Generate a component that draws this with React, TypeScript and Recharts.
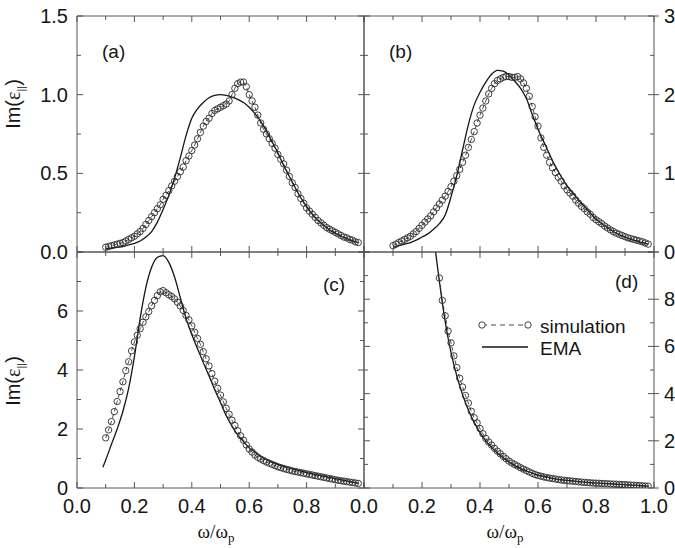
import React from "react";
import { ComposedChart, Line, XAxis, YAxis } from "recharts";

const W = 675;
const H = 548;

// simulation grid (omega / omega_p)
const simX = [
  0.1, 0.11, 0.12, 0.13, 0.14, 0.15, 0.16, 0.17, 0.18, 0.19,
  0.2, 0.21, 0.22, 0.23, 0.24, 0.25, 0.26, 0.27, 0.28, 0.29,
  0.3, 0.31, 0.32, 0.33, 0.34, 0.35, 0.36, 0.37, 0.38, 0.39,
  0.4, 0.41, 0.42, 0.43, 0.44, 0.45, 0.46, 0.47, 0.48, 0.49,
  0.5, 0.51, 0.52, 0.53, 0.54, 0.55, 0.56, 0.57, 0.58, 0.59,
  0.6, 0.61, 0.62, 0.63, 0.64, 0.65, 0.66, 0.67, 0.68, 0.69,
  0.7, 0.71, 0.72, 0.73, 0.74, 0.75, 0.76, 0.77, 0.78, 0.79,
  0.8, 0.81, 0.82, 0.83, 0.84, 0.85, 0.86, 0.87, 0.88, 0.89,
  0.9, 0.91, 0.92, 0.93, 0.94, 0.95, 0.96, 0.97, 0.98,
];

const simA = [
  0.03, 0.035, 0.04, 0.045, 0.05, 0.055, 0.06, 0.07, 0.08, 0.09,
  0.1, 0.115, 0.13, 0.15, 0.175, 0.2, 0.225, 0.25, 0.275, 0.3,
  0.335, 0.36, 0.39, 0.42, 0.45, 0.48, 0.51, 0.54, 0.58, 0.61,
  0.645, 0.68, 0.72, 0.76, 0.8, 0.83, 0.85, 0.88, 0.9, 0.91,
  0.92, 0.93, 0.94, 0.96, 1.0, 1.04, 1.07, 1.08, 1.08, 1.05,
  1.0, 0.96, 0.92, 0.87, 0.82, 0.78, 0.75, 0.72, 0.69, 0.66,
  0.62, 0.59, 0.56, 0.52, 0.48, 0.44, 0.41, 0.37, 0.34, 0.31,
  0.28, 0.26, 0.24, 0.22, 0.2, 0.185, 0.17, 0.155, 0.145, 0.135,
  0.125, 0.115, 0.105, 0.095, 0.09, 0.08, 0.075, 0.065, 0.06,
];

const simB = [
  0.08, 0.1, 0.12, 0.14, 0.16, 0.18, 0.2, 0.23, 0.26, 0.3,
  0.34, 0.38, 0.42, 0.46, 0.51, 0.56, 0.61, 0.66, 0.71, 0.77,
  0.83, 0.9, 0.97, 1.05, 1.14, 1.23, 1.33, 1.43, 1.53, 1.64,
  1.74, 1.83, 1.92, 2.01, 2.08, 2.14, 2.18, 2.2, 2.22, 2.23,
  2.23, 2.22, 2.22, 2.23, 2.2, 2.15, 2.08, 1.98, 1.85, 1.72,
  1.6, 1.45, 1.33, 1.23, 1.14, 1.07, 1.01, 0.95, 0.9, 0.84,
  0.79, 0.75, 0.71, 0.66, 0.62, 0.58, 0.55, 0.51, 0.48, 0.44,
  0.41, 0.385, 0.36, 0.33, 0.305, 0.28, 0.26, 0.24, 0.225, 0.21,
  0.195, 0.18, 0.17, 0.16, 0.15, 0.14, 0.13, 0.115, 0.1,
];

const simC = [
  1.7, 1.97, 2.25, 2.59, 2.93, 3.27, 3.6, 3.98, 4.28, 4.65,
  4.95, 5.18, 5.4, 5.62, 5.8, 5.98, 6.18, 6.36, 6.52, 6.65,
  6.69, 6.62, 6.55, 6.49, 6.41, 6.3, 6.17, 6.02, 5.85, 5.7,
  5.5, 5.28, 5.07, 4.87, 4.62, 4.38, 4.14, 3.88, 3.62, 3.38,
  3.15, 2.92, 2.7, 2.5, 2.3, 2.12, 1.94, 1.77, 1.62, 1.46,
  1.32, 1.22, 1.12, 1.04, 0.98, 0.93, 0.88, 0.84, 0.8, 0.76,
  0.72, 0.69, 0.66, 0.63, 0.61, 0.58, 0.56, 0.54, 0.52, 0.5,
  0.48, 0.46, 0.44, 0.42, 0.4, 0.38, 0.36, 0.34, 0.32, 0.3,
  0.28, 0.26, 0.245, 0.23, 0.215, 0.2, 0.185, 0.17, 0.155,
];

// panel (d) data starts at 0.26, below that it is off the top
const simXD = simX.slice(16);
const simD = [
  8.9, 7.95, 7.3, 6.65,
  6.15, 5.6, 5.1, 4.65, 4.28, 3.92, 3.6, 3.25, 2.98, 2.76,
  2.52, 2.3, 2.1, 1.95, 1.82, 1.68, 1.56, 1.45, 1.34, 1.24,
  1.14, 1.06, 0.99, 0.93, 0.86, 0.8, 0.74, 0.68, 0.62, 0.57,
  0.53, 0.5, 0.47, 0.44, 0.42, 0.4, 0.38, 0.36, 0.34, 0.325,
  0.31, 0.3, 0.29, 0.275, 0.26, 0.25, 0.24, 0.23, 0.22, 0.21,
  0.205, 0.2, 0.19, 0.185, 0.18, 0.17, 0.165, 0.16, 0.15, 0.145,
  0.14, 0.13, 0.125, 0.115, 0.11, 0.1, 0.09, 0.085, 0.08,
];

// EMA curves
const emaX = [
  0.1, 0.12, 0.14, 0.16, 0.18, 0.2, 0.22, 0.24, 0.26, 0.28,
  0.3, 0.32, 0.34, 0.36, 0.38, 0.4, 0.42, 0.44, 0.46, 0.48,
  0.5, 0.52, 0.54, 0.56, 0.58, 0.6, 0.62, 0.64, 0.66, 0.68,
  0.7, 0.72, 0.74, 0.76, 0.78, 0.8, 0.82, 0.84, 0.86, 0.88,
  0.9, 0.92, 0.94, 0.96, 0.98,
];

const emaA = [
  0.02, 0.025, 0.03, 0.035, 0.045, 0.055, 0.07, 0.095, 0.13, 0.19,
  0.27, 0.36, 0.47, 0.6, 0.74, 0.85, 0.91, 0.95, 0.98, 0.995,
  1.0, 0.995, 0.985, 0.97, 0.95, 0.92, 0.88, 0.83, 0.77, 0.7,
  0.63, 0.55, 0.48, 0.41, 0.345, 0.29, 0.24, 0.2, 0.17, 0.14,
  0.12, 0.1, 0.085, 0.07, 0.06,
];

const emaB = [
  0.06, 0.08, 0.1, 0.12, 0.15, 0.19, 0.23, 0.29, 0.36, 0.47,
  0.7, 0.97, 1.3, 1.62, 1.87, 2.03, 2.16, 2.26, 2.31, 2.3,
  2.25, 2.17, 2.08, 1.95, 1.75, 1.56, 1.4, 1.24, 1.09, 0.96,
  0.84, 0.75, 0.66, 0.58, 0.5, 0.42, 0.36, 0.31, 0.26, 0.22,
  0.19, 0.16, 0.14, 0.12, 0.1,
];

const emaXC = [0.09, ...emaX];
const emaC = [
  0.7, 0.95, 1.48, 2.0, 2.6, 3.38, 4.45, 5.75, 6.8, 7.48, 7.82,
  7.88, 7.65, 7.15, 6.45, 5.75, 5.2, 4.72, 4.25, 3.8, 3.33,
  2.9, 2.45, 2.1, 1.8, 1.58, 1.36, 1.22, 1.07, 0.96, 0.87,
  0.8, 0.73, 0.67, 0.62, 0.57, 0.52, 0.48, 0.44, 0.4, 0.36,
  0.32, 0.28, 0.24, 0.2, 0.16,
];

const emaXD = [
  0.24, 0.25, 0.26, 0.27, 0.28, 0.29, 0.3, 0.32, 0.34, 0.36,
  0.38, 0.4, 0.42, 0.44, 0.46, 0.48, 0.5, 0.52, 0.54, 0.56,
  0.58, 0.6, 0.62, 0.64, 0.66, 0.68, 0.7, 0.74, 0.78, 0.82,
  0.86, 0.9, 0.94, 0.98,
];
const emaD = [
  10.7, 9.7, 8.75, 7.85, 7.05, 6.35, 5.75, 4.75, 3.95, 3.3,
  2.78, 2.35, 2.0, 1.72, 1.48, 1.28, 1.1, 0.95, 0.82, 0.72,
  0.63, 0.55, 0.49, 0.44, 0.39, 0.35, 0.32, 0.27, 0.23, 0.2,
  0.17, 0.14, 0.11, 0.08,
];

// ticks and labels
const xTicks = [0, 0.1, 0.2, 0.3, 0.4, 0.5, 0.6, 0.7, 0.8, 0.9, 1.0];
const xLabelsC = [0, 0.2, 0.4, 0.6, 0.8];
const xLabelsD = [0, 0.2, 0.4, 0.6, 0.8, 1.0];
const yTicksA = [0, 0.25, 0.5, 0.75, 1, 1.25, 1.5];
const yTicksB = [0, 0.5, 1, 1.5, 2, 2.5, 3];
const yTicksC = [0, 1, 2, 3, 4, 5, 6, 7, 8];
const yTicksD = [0, 1, 2, 3, 4, 5, 6, 7, 8, 9, 10];
const yLabelsA = [0, 0.5, 1, 1.5];
const yLabelsB = [0, 1, 2, 3];
const yLabelsC = [0, 2, 4, 6];
const yLabelsD = [0, 2, 4, 6, 8];

const SANS = "'Liberation Sans', Arial, Helvetica, sans-serif";
const SERIF = "'Liberation Serif', 'Times New Roman', serif";
const INK = "#151515";
const FRAME = "#555";

const rows = (xs: number[], ys: number[]) => xs.map((x, i) => ({ x, y: ys[i] }));

const isMajor = (v: number, step: number) =>
  Math.abs(v / step - Math.round(v / step)) < 1e-6;

const fmt1 = (v: number) => v.toFixed(1);
const fmt0 = (v: number) => String(v);

type Side = "bottom" | "top" | "left" | "right";

function tickFor(
  side: Side,
  step: number,
  labels: number[],
  fmt: (v: number) => string,
  outer = false
) {
  return (props: any) => {
    const { x, y, payload } = props;
    const v = payload.value;
    const major = isMajor(v, step);
    const len = major ? 6 : 4;
    const show = labels.some((l) => Math.abs(l - v) < 1e-6);
    let x1 = x, y1 = y, x2 = x, y2 = y;
    if (side === "bottom") y2 = y - len;
    if (side === "top") y2 = y + len;
    if (side === "left") x2 = x + len;
    if (side === "right") {
      x2 = x - len;
      if (outer && major) x1 = x + 5;
    }
    let label = null;
    if (show) {
      const common = { fill: INK, fontSize: 20, fontFamily: SANS };
      if (side === "bottom")
        label = <text x={x} y={y + 25} textAnchor="middle" {...common}>{fmt(v)}</text>;
      if (side === "left")
        label = <text x={x - 9} y={y + 7} textAnchor="end" {...common}>{fmt(v)}</text>;
      if (side === "right")
        label = <text x={x + 10} y={y + 7} textAnchor="start" {...common}>{fmt(v)}</text>;
    }
    return (
      <g>
        <line x1={x1} y1={y1} x2={x2} y2={y2} stroke={FRAME} strokeWidth={1} />
        {label}
      </g>
    );
  };
}

const SimDot = (p: any) => (
  <circle
    key={`d-${p.index}`}
    cx={p.cx}
    cy={p.cy}
    r={3.2}
    fill="none"
    stroke="#2a2a2a"
    strokeWidth={0.9}
  />
);

interface PanelProps {
  box: [number, number, number, number];
  yMax: number;
  yTicks: number[];
  yStep: number;
  xLabels: number[];
  leftLabels: number[];
  rightLabels: number[];
  yFmt: (v: number) => string;
  outerRight: boolean;
  sim: { x: number; y: number }[];
  ema: { x: number; y: number }[];
}

function Panel({
  box,
  yMax,
  yTicks,
  yStep,
  xLabels,
  leftLabels,
  rightLabels,
  yFmt,
  outerRight,
  sim,
  ema,
}: PanelProps) {
  const [l, t, r, b] = box;
  const axisLine = { stroke: FRAME, strokeWidth: 1 };
  // every axis is 1px thick so that it is drawn; margins make up for it
  return (
    <div style={{ position: "absolute", left: 0, top: 0 }}>
      <ComposedChart
        width={W}
        height={H}
        margin={{ top: t - 1, left: l - 1, right: W - r - 1, bottom: H - b - 1 }}>
        <XAxis
          xAxisId="b"
          type="number"
          dataKey="x"
          domain={[0, 1]}
          ticks={xTicks}
          interval={0}
          height={1}
          tickSize={0}
          tickMargin={0}
          tickLine={false}
          axisLine={axisLine}
          tick={tickFor("bottom", 0.2, xLabels, fmt1)}
          allowDataOverflow
        />
        <XAxis
          xAxisId="t"
          orientation="top"
          type="number"
          dataKey="x"
          domain={[0, 1]}
          ticks={xTicks}
          interval={0}
          height={1}
          tickSize={0}
          tickMargin={0}
          tickLine={false}
          axisLine={axisLine}
          tick={tickFor("top", 0.2, [], fmt1)}
          allowDataOverflow
        />
        <YAxis
          yAxisId="l"
          type="number"
          domain={[0, yMax]}
          ticks={yTicks}
          interval={0}
          width={1}
          tickSize={0}
          tickMargin={0}
          tickLine={false}
          axisLine={axisLine}
          tick={tickFor("left", yStep, leftLabels, yFmt)}
          allowDataOverflow
        />
        <YAxis
          yAxisId="r"
          orientation="right"
          type="number"
          domain={[0, yMax]}
          ticks={yTicks}
          interval={0}
          width={1}
          tickSize={0}
          tickMargin={0}
          tickLine={false}
          axisLine={axisLine}
          tick={tickFor("right", yStep, rightLabels, yFmt, outerRight)}
          allowDataOverflow
        />
        <Line
          xAxisId="b"
          yAxisId="l"
          data={ema}
          dataKey="y"
          type="monotone"
          stroke={INK}
          strokeWidth={1.3}
          dot={false}
          isAnimationActive={false}
        />
        <Line
          xAxisId="b"
          yAxisId="l"
          data={sim}
          dataKey="y"
          type="linear"
          stroke="#333"
          strokeWidth={0.9}
          strokeDasharray="4 3"
          dot={SimDot}
          isAnimationActive={false}
        />
      </ComposedChart>
    </div>
  );
}

const YTitle = ({ x, y }: { x: number; y: number }) => (
  <text
    transform={`translate(${x},${y}) rotate(-90)`}
    textAnchor="middle"
    fontFamily={SANS}
    fontSize={20}
    fill={INK}>
    Im(
    <tspan fontFamily={SERIF}>ε</tspan>
    <tspan fontSize={11} dy={5}>||</tspan>
    <tspan dy={-5}>)</tspan>
  </text>
);

const XTitle = ({ x, y }: { x: number; y: number }) => (
  <text x={x} y={y} textAnchor="middle" fontFamily={SERIF} fontSize={19} fill={INK}>
    ω/ω
    <tspan fontSize={13} dy={4}>p</tspan>
  </text>
);

export default function App() {
  const L = 77;
  const M = 364;
  const R = 654;
  const T = 16;
  const C = 252;
  const B = 488;
  return (
    <div
      style={{
        position: "absolute",
        left: 0,
        top: 0,
        width: W,
        height: H,
        background: "#fff",
      }}>
      <Panel
        box={[L, T, M, C]}
        yMax={1.5}
        yTicks={yTicksA}
        yStep={0.5}
        xLabels={[]}
        leftLabels={yLabelsA}
        rightLabels={[]}
        yFmt={fmt1}
        outerRight={false}
        sim={rows(simX, simA)}
        ema={rows(emaX, emaA)}
      />
      <Panel
        box={[M, T, R, C]}
        yMax={3}
        yTicks={yTicksB}
        yStep={1}
        xLabels={[]}
        leftLabels={[]}
        rightLabels={yLabelsB}
        yFmt={fmt0}
        outerRight={true}
        sim={rows(simX, simB)}
        ema={rows(emaX, emaB)}
      />
      <Panel
        box={[L, C, M, B]}
        yMax={8}
        yTicks={yTicksC}
        yStep={2}
        xLabels={xLabelsC}
        leftLabels={yLabelsC}
        rightLabels={[]}
        yFmt={fmt0}
        outerRight={false}
        sim={rows(simX, simC)}
        ema={rows(emaXC, emaC)}
      />
      <Panel
        box={[M, C, R, B]}
        yMax={10}
        yTicks={yTicksD}
        yStep={2}
        xLabels={xLabelsD}
        leftLabels={[]}
        rightLabels={yLabelsD}
        yFmt={fmt0}
        outerRight={true}
        sim={rows(simXD, simD)}
        ema={rows(emaXD, emaD)}
      />
      <svg
        width={W}
        height={H}
        style={{ position: "absolute", left: 0, top: 0, pointerEvents: "none" }}>
        <g fontFamily={SANS} fontSize={19} fill={INK}>
          <text x={102} y={58}>(a)</text>
          <text x={389} y={58}>(b)</text>
          <text x={323} y={291}>(c)</text>
          <text x={615} y={288}>(d)</text>
        </g>
        <YTitle x={20} y={104} />
        <YTitle x={20} y={381} />
        <XTitle x={216} y={538} />
        <XTitle x={505} y={538} />
        {/* legend */}
        <line x1={482} y1={325} x2={528} y2={325} stroke="#333" strokeWidth={0.9} strokeDasharray="5 4" />
        <circle cx={482} cy={325} r={3.2} fill="#fff" stroke="#2a2a2a" strokeWidth={0.9} />
        <circle cx={528} cy={325} r={3.2} fill="#fff" stroke="#2a2a2a" strokeWidth={0.9} />
        <text x={540} y={333} fontFamily={SANS} fontSize={19} fill={INK}>simulation</text>
        <line x1={482} y1={347} x2={528} y2={347} stroke={INK} strokeWidth={1.3} />
        <text x={540} y={355} fontFamily={SANS} fontSize={19} fill={INK}>EMA</text>
      </svg>
    </div>
  );
}
